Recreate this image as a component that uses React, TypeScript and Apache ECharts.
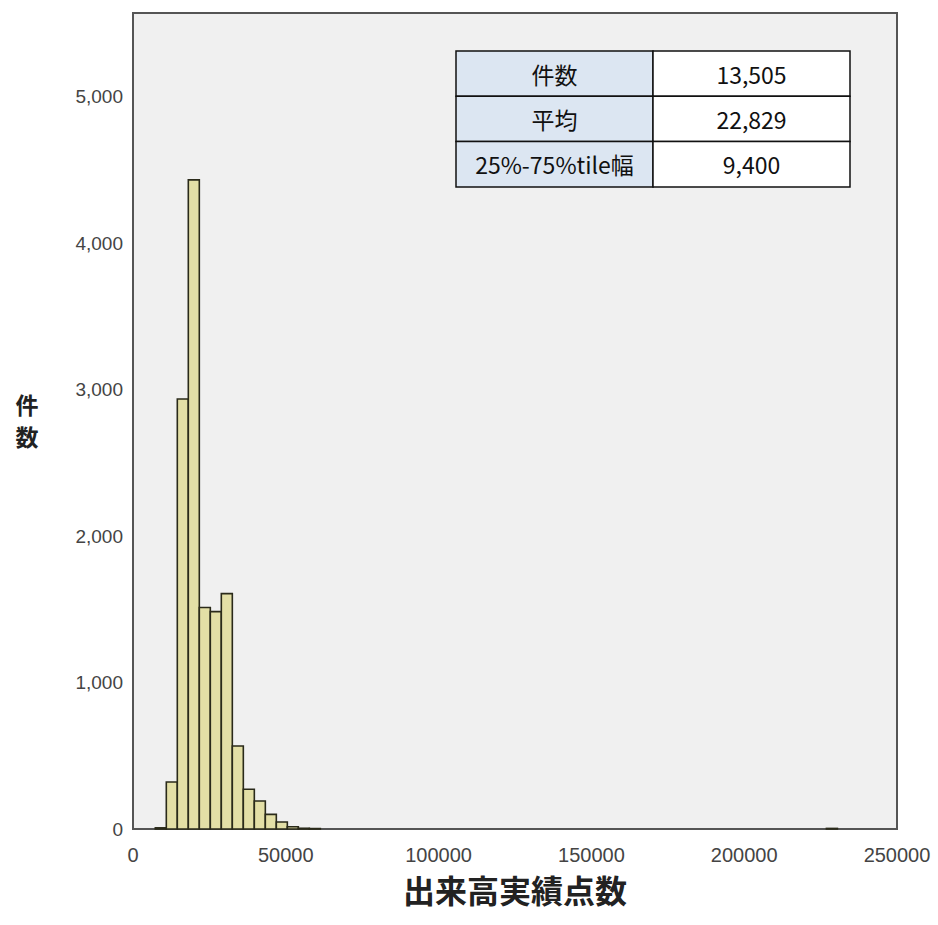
import React, { useEffect, useRef } from "react";
import * as echarts from "echarts";

// Histogram bins (left edge) and counts
const BIN_WIDTH = 3600;
const binStarts = [7300, 10900, 14500, 18100, 21700, 25300, 28900, 32500, 36100, 39700, 43300, 46900, 50500, 54100, 57700, 226900];
const binCounts = [8, 321, 2935, 4431, 1512, 1484, 1607, 567, 271, 191, 100, 48, 15, 5, 3, 4];

const xTicks = [0, 50000, 100000, 150000, 200000, 250000];
const yMax = 5570;

const tableLabels = ["件数", "平均", "25%-75%tile幅"];
const tableValues = ["13,505", "22,829", "9,400"];

const xName = "出来高実績点数";
const yNameChars = ["件", "数"];

export default function App() {
  const ref = useRef<HTMLDivElement>(null);
  useEffect(() => {
    if (!ref.current) return;
    const chart = echarts.init(ref.current, undefined, { renderer: "svg" });
    const data = binStarts.map((s, i) => [s, s + BIN_WIDTH, binCounts[i]]);

    const tX = 456, tY = 51, c1 = 197, c2 = 197, rh = 45.3;
    const els: any[] = [];
    tableLabels.forEach((lab, i) => {
      const y = tY + i * rh;
      els.push({
        type: "rect",
        shape: { x: tX, y, width: c1, height: rh },
        style: { fill: "#dce6f2", stroke: "#111", lineWidth: 1.5 },
      });
      els.push({
        type: "rect",
        shape: { x: tX + c1, y, width: c2, height: rh },
        style: { fill: "#ffffff", stroke: "#111", lineWidth: 1.5 },
      });
      els.push({
        type: "text",
        x: tX + c1 / 2,
        y: y + rh / 2,
        style: {
          text: lab,
          fill: "#111",
          font: '23px "Noto Sans CJK JP", sans-serif',
          textAlign: "center",
          textVerticalAlign: "middle",
        },
      });
      els.push({
        type: "text",
        x: tX + c1 + c2 / 2,
        y: y + rh / 2,
        style: {
          text: tableValues[i],
          fill: "#111",
          font: '23px "Noto Sans CJK JP", sans-serif',
          textAlign: "center",
          textVerticalAlign: "middle",
        },
      });
    });
    yNameChars.forEach((ch, i) => {
      els.push({
        type: "text",
        x: 27,
        y: 404 + i * 32,
        style: {
          text: ch,
          fill: "#222",
          font: 'bold 23px "Noto Sans CJK JP", sans-serif',
          lineHeight: 23,
          textAlign: "center",
          textVerticalAlign: "middle",
        },
      });
    });

    chart.setOption({
      animation: false,
      backgroundColor: "#ffffff",
      grid: {
        left: 133,
        top: 13,
        right: 41,
        bottom: 96,
        show: true,
        backgroundColor: "#f0f0f0",
        borderColor: "#555555",
        borderWidth: 2,
      },
      xAxis: {
        type: "value",
        min: xTicks[0],
        max: xTicks[xTicks.length - 1],
        interval: 50000,
        name: xName,
        nameLocation: "middle",
        nameGap: 44,
        nameTextStyle: {
          fontSize: 32,
          fontWeight: "bold",
          color: "#222",
          fontFamily: '"Noto Sans CJK JP", sans-serif',
        },
        axisLine: { show: false },
        axisTick: { show: false },
        splitLine: { show: false },
        axisLabel: {
          fontSize: 20,
          color: "#444",
          margin: 16,
          fontFamily: '"Liberation Sans", Arial, sans-serif',
          formatter: (v: number) => String(v),
        },
      },
      yAxis: {
        type: "value",
        min: 0,
        max: yMax,
        interval: 1000,
        axisLine: { show: false },
        axisTick: { show: false },
        splitLine: { show: false },
        axisLabel: {
          fontSize: 19,
          color: "#444",
          margin: 10,
          showMaxLabel: false,
          fontFamily: '"Liberation Sans", Arial, sans-serif',
          formatter: (v: number) => v.toLocaleString("en-US"),
        },
      },
      series: [
        {
          type: "custom",
          data,
          encode: { x: [0, 1], y: 2 },
          renderItem: (params: any, api: any) => {
            const x0 = api.value(0);
            const x1 = api.value(1);
            const c = api.value(2);
            const p0 = api.coord([x0, c]);
            const p1 = api.coord([x1, 0]);
            return {
              type: "rect",
              shape: { x: p0[0], y: p0[1], width: p1[0] - p0[0], height: p1[1] - p0[1] },
              style: { fill: "#e3dfa6", stroke: "#2a2a1a", lineWidth: 1.6 },
            };
          },
        },
      ],
      graphic: els,
    });
    return () => chart.dispose();
  }, []);
  return (
    <div
      ref={ref}
      style={{ position: "fixed", left: 0, top: 0, width: 938, height: 925 }}
    />
  );
}
